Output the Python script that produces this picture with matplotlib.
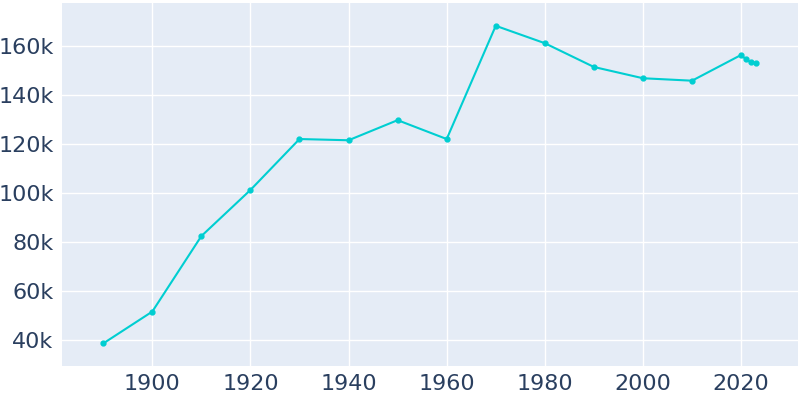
import matplotlib
matplotlib.use("Agg")
import matplotlib.pyplot as plt
from matplotlib.ticker import FuncFormatter

years = [1890, 1900, 1910, 1920, 1930, 1940, 1950, 1960, 1970, 1980, 1990, 2000, 2010, 2020, 2021, 2022, 2023]
population = [38600, 51600, 82400, 101200, 122000, 121500, 129700, 122000, 168200, 161100, 151400, 146800, 145800, 156300, 154500, 153300, 153000]

fig = plt.figure(figsize=(8, 4), dpi=100)
ax = fig.add_axes([0.0775, 0.085, 0.92, 0.9075])
ax.set_facecolor("#E5ECF6")
for s in ax.spines.values():
    s.set_visible(False)
ax.grid(True, color="white", linewidth=1)
ax.set_axisbelow(True)
ax.plot(years, population, color="#00CED1", linewidth=1.5, marker="o", markersize=3.5)
ax.set_xlim(1881.6, 2031.6)
ax.set_ylim(29400, 177500)
ax.set_xticks([1900, 1920, 1940, 1960, 1980, 2000, 2020])
ax.set_yticks([40000, 60000, 80000, 100000, 120000, 140000, 160000])
ax.yaxis.set_major_formatter(FuncFormatter(lambda v, p: f"{int(v/1000)}k"))
ax.tick_params(length=0, labelsize=16, colors="#2A3F5F", pad=6)
fig.savefig("out.png")
